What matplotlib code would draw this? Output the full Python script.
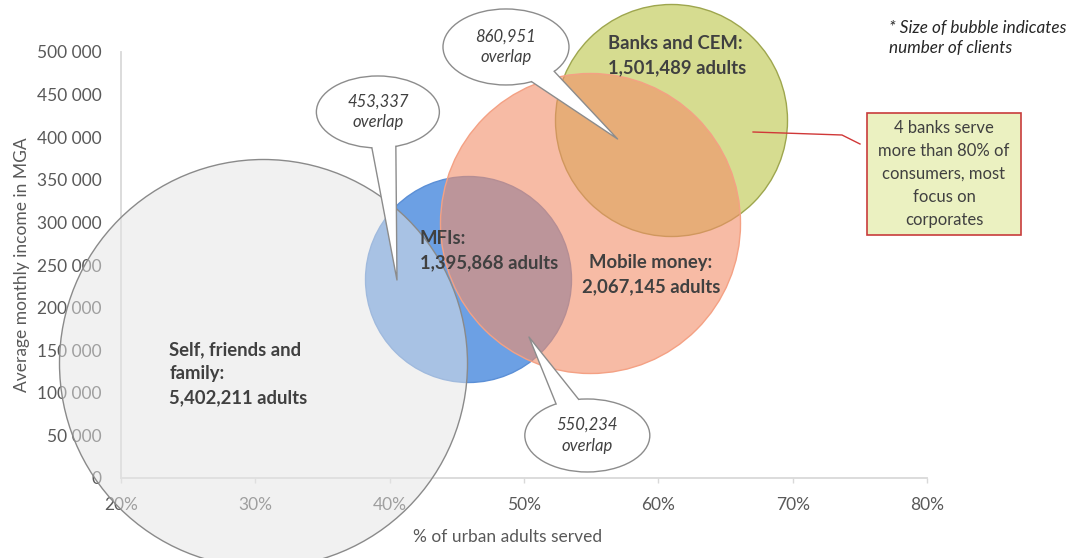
import numpy as np
import matplotlib.pyplot as plt
from matplotlib.patches import Ellipse, Polygon, Rectangle
from matplotlib.lines import Line2D
from matplotlib.transforms import IdentityTransform

plt.rcParams['font.family'] = ['Lato', 'DejaVu Sans']

# Segments shown as bubbles
segments = ['Self, friends and\nfamily:', 'MFIs:', 'Mobile money:', 'Banks and CEM:']
adults = [5402211, 1395868, 2067145, 1501489]
pct_urban_served = [30.6, 45.8, 54.9, 60.9]        # x, in %
avg_income = [135000, 233600, 299300, 420200]      # y, MGA
bubble_size = [5402211, 1377000, 2921000, 1747000]

# Overlap call-outs (value, and where it sits on the chart)
overlap_adults = [453337, 860951, 550234]
overlap_x = [40.55, 56.96, 50.37]
overlap_y = [232400, 397900, 165500]

x_ticks = [20, 30, 40, 50, 60, 70, 80]
y_ticks = [0, 50000, 100000, 150000, 200000, 250000, 300000, 350000, 400000, 450000, 500000]

W, H = 1073, 558
fig = plt.figure(figsize=(W / 100, H / 100), dpi=100)
ax = fig.add_axes([120.7 / W, 1 - 478 / H, 806.6 / W, 426 / H])
ax.set_xlim(20, 80)
ax.set_ylim(0, 500000)

# axes styling
for side in ['top', 'right']:
    ax.spines[side].set_visible(False)
for side in ['left', 'bottom']:
    ax.spines[side].set_color('#D9D9D9')
    ax.spines[side].set_linewidth(1.3)
ax.set_xticks(x_ticks)
ax.set_xticklabels([f'{v}%' for v in x_ticks])
ax.set_yticks(y_ticks)
ax.set_yticklabels([f'{v:,}'.replace(',', ' ') for v in y_ticks])
ax.tick_params(axis='x', length=3.6, width=1, color='#D9D9D9', pad=10,
               labelsize=12.5, labelcolor='#595959')
ax.tick_params(axis='y', length=0, pad=13.5, labelsize=12.5, labelcolor='#595959')
ax.set_xlabel('% of urban adults served', fontsize=12.5, color='#595959')
ax.set_ylabel('Average monthly income in MGA', fontsize=12.5, color='#595959')
ax.xaxis.set_label_coords(0.48, -0.12)
ax.yaxis.set_label_coords(-0.112, 0.5)

# bubbles: area proportional to bubble_size, largest has 204 px radius
max_r = 204
sizes = [(2 * max_r * 0.72) ** 2 * b / max(bubble_size) for b in bubble_size]

face = ['#E5E5E580', '#6CA0E4', '#F38E6999', '#D6DC90']
edge = ['#8A8A8A', '#5B8FD6', '#F4A184', '#9EA64E']
order_z = [3.0, 2.0, 2.2, 2.1]
for i in range(len(segments)):
    ax.scatter(pct_urban_served[i], avg_income[i], s=sizes[i], facecolors=face[i],
               edgecolors=edge[i], linewidths=1, zorder=order_z[i], clip_on=False)

# bubble labels
label_offsets = [(-94, -11), (-48, 28), (61, -52), (-63, 64)]
label_ha = ['left', 'left', 'center', 'left']
for i in range(len(segments)):
    ax.annotate(f'{segments[i]}\n{adults[i]:,} adults',
                xy=(pct_urban_served[i], avg_income[i]), xytext=label_offsets[i],
                textcoords='offset pixels', ha=label_ha[i], va='center',
                multialignment=label_ha[i], fontsize=13.3, fontweight='bold',
                color='#404040', linespacing=1.5, zorder=8)

# speech-bubble call-outs for the overlaps
bubble_centers = [(39.13, 429600), (48.66, 505900), (54.71, 49900)]
bubble_dims = [(123, 72), (126, 76), (125, 73)]
tail_angles = [(-95.6, -73), (-66, -40), (120, 98)]
ident = IdentityTransform()
for i, val in enumerate(overlap_adults):
    cx, cy = ax.transData.transform(bubble_centers[i])
    tx, ty = ax.transData.transform((overlap_x[i], overlap_y[i]))
    w, h = bubble_dims[i]
    base = [(cx + w / 2 * np.cos(np.radians(a)), cy + h / 2 * np.sin(np.radians(a)))
            for a in tail_angles[i]]
    ax.add_patch(Ellipse((cx, cy), w, h, fc='white', ec='#8C8C8C', lw=1,
                         transform=ident, zorder=6, clip_on=False))
    ax.add_patch(Polygon([base[0], (tx, ty), base[1], (cx, cy)], closed=True,
                         fc='white', ec='none', transform=ident, zorder=6.1,
                         clip_on=False))
    ax.add_line(Line2D([base[0][0], tx, base[1][0]], [base[0][1], ty, base[1][1]],
                       color='#8C8C8C', lw=1, transform=ident, zorder=6.2,
                       clip_on=False))
    ax.text(cx, cy, f'{val:,}\noverlap', transform=ident, ha='center', va='center',
            fontsize=12, style='italic', color='#404040', linespacing=1.38,
            zorder=6.3)

# note box on banks
nx, ny = ax.transData.transform((67.04, 406100))
ax.add_line(Line2D([nx, 842, 860], [ny, H - 135, H - 144], color='#D03838', lw=1,
                   transform=ident, zorder=6, clip_on=False))
fig.patches.append(Rectangle((867 / W, 1 - 235 / H), 154 / W, 122 / H,
                             transform=fig.transFigure, fc='#EBF1C1', ec='#C83C3C',
                             lw=1.2))
fig.text(944 / W, 1 - 174 / H,
         '4 banks serve\nmore than 80% of\nconsumers, most\nfocus on\ncorporates',
         ha='center', va='center', fontsize=12, color='#404040', linespacing=1.55)

fig.text(889 / W, 1 - 38 / H, '* Size of bubble indicates\nnumber of clients',
         ha='left', va='center', fontsize=12.3, style='italic', color='#262626',
         linespacing=1.3)

fig.savefig('out.png', dpi=100)
